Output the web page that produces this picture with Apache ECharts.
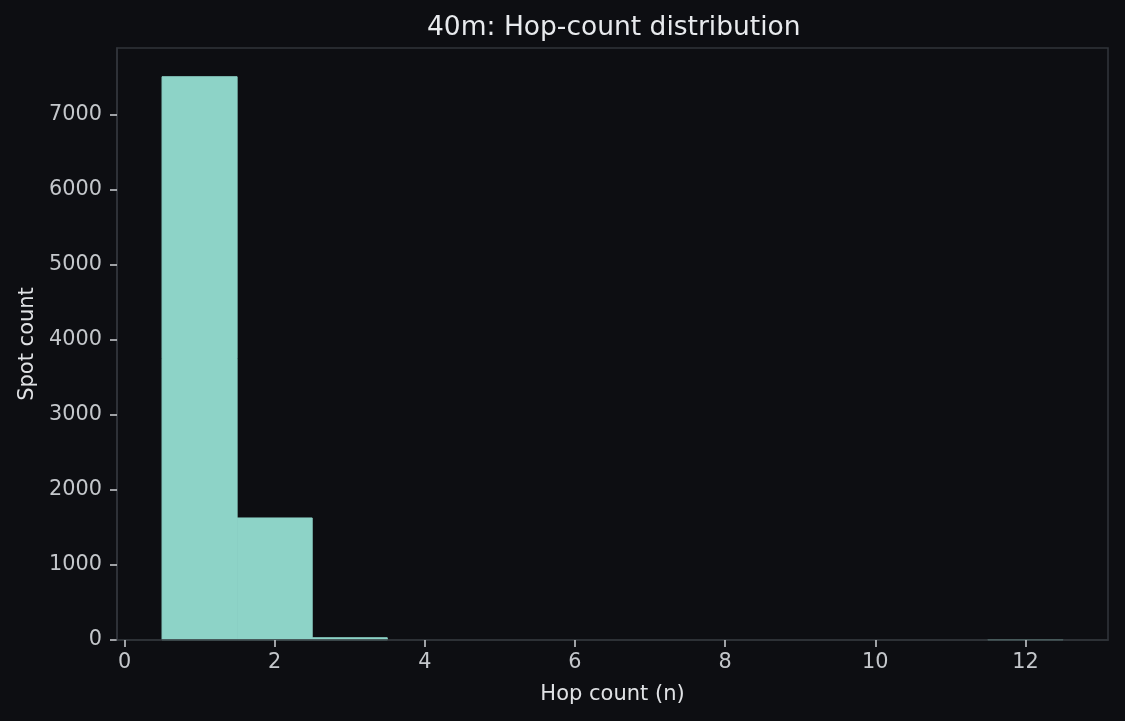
<!DOCTYPE html>
<html>
<head>
<meta charset="utf-8">
<script src="https://cdn.jsdelivr.net/npm/echarts@6/dist/echarts.min.js"></script>
<style>
html,body{margin:0;padding:0;background:#0d0e12;}
#chart{width:1125px;height:721px;}
</style>
</head>
<body>
<div id="chart"></div>
<script>
// Histogram bins (hop count n) and spot counts
const binStart = [0.5, 1.5, 2.5, 3.5, 4.5, 5.5, 6.5, 7.5, 8.5, 9.5, 10.5, 11.5];
const binEnd   = [1.5, 2.5, 3.5, 4.5, 5.5, 6.5, 7.5, 8.5, 9.5, 10.5, 11.5, 12.5];
const counts   = [7510, 1627, 30, 0, 0, 0, 0, 0, 0, 0, 0, 5];
const xTicks = [0, 2, 4, 6, 8, 10, 12];
const yTicks = [0, 1000, 2000, 3000, 4000, 5000, 6000, 7000];

const data = binStart.map((s, i) => [s, binEnd[i], counts[i]]);
const FONT = 'DejaVu Sans';

const chart = echarts.init(document.getElementById('chart'), null, {renderer: 'canvas'});
chart.setOption({
  backgroundColor: '#0d0e12',
  animation: false,
  textStyle: {fontFamily: FONT},
  title: {
    text: '40m: Hop-count distribution',
    left: 422,
    top: 10,
    textStyle: {color: '#e8eaed', fontSize: 26.5, fontWeight: 'normal', fontFamily: FONT}
  },
  grid: {
    left: 117, right: 17, top: 48, bottom: 81,
    show: true, borderColor: '#30343a', borderWidth: 1.6, backgroundColor: '#0d0e12'
  },
  xAxis: {
    type: 'value',
    min: -0.1, max: 13.1,
    z: 5,
    name: 'Hop count (n)',
    nameLocation: 'middle',
    nameGap: 44,
    nameTextStyle: {color: '#e0e2e5', fontSize: 21, fontFamily: FONT},
    axisLine: {show: true, onZero: false, lineStyle: {color: '#30343a', width: 1.6}},
    axisTick: {show: true, length: 7, lineStyle: {color: '#c4c7cb', width: 1.6}, customValues: xTicks},
    axisLabel: {color: '#c4c7cb', fontSize: 20.8, margin: 12, fontFamily: FONT, customValues: xTicks,
      formatter: v => String(v)},
    splitLine: {show: false}
  },
  yAxis: {
    type: 'value',
    min: 0, max: 7893,
    name: 'Spot count',
    nameLocation: 'middle',
    nameGap: 79,
    nameTextStyle: {color: '#e0e2e5', fontSize: 21, fontFamily: FONT},
    axisLine: {show: true, onZero: false, lineStyle: {color: '#30343a', width: 1.6}},
    axisTick: {show: true, length: 7, lineStyle: {color: '#c4c7cb', width: 1.6}, customValues: yTicks},
    axisLabel: {color: '#c4c7cb', fontSize: 20.8, margin: 15, fontFamily: FONT, customValues: yTicks,
      formatter: v => String(v)},
    splitLine: {show: false}
  },
  series: [{
    type: 'custom',
    data: data,
    encode: {x: [0, 1], y: 2},
    renderItem: function (params, api) {
      if (!(api.value(2) > 0)) return null;
      const p0 = api.coord([api.value(0), api.value(2)]);
      const p1 = api.coord([api.value(1), 0]);
      return {
        type: 'rect',
        shape: {x: p0[0], y: p0[1], width: p1[0] - p0[0], height: p1[1] - p0[1]},
        style: {fill: '#8dd3c7', stroke: '#8dd3c7', lineWidth: 1}
      };
    }
  }]
});
</script>
</body>
</html>
